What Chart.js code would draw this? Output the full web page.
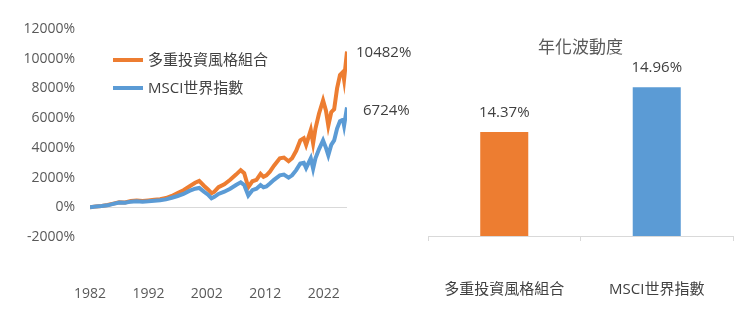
<!DOCTYPE html>
<html>
<head>
<meta charset="utf-8">
<script src="https://cdn.jsdelivr.net/npm/chart.js@4.4.0/dist/chart.umd.min.js"></script>
<style>
  body { margin: 0; background: #fff; overflow: hidden; }
  #leftBox { position: absolute; left: 0; top: 0; width: 425px; height: 314px; }
  #rightBox { position: absolute; left: 425px; top: 0; width: 318px; height: 314px; }
</style>
</head>
<body>
<div id="leftBox"><canvas id="left"></canvas></div>
<div id="rightBox"><canvas id="right"></canvas></div>
<script>
// 累積報酬 (%)
const years = [1982, 1983, 1984, 1985, 1986, 1987, 1988, 1989, 1990, 1991, 1992, 1993, 1994, 1995, 1996, 1997, 1998, 1999, 2000, 2000.7,
    2001.5, 2002.2, 2002.8, 2003.3, 2004, 2005, 2006, 2007, 2007.8, 2008.4, 2009.1, 2009.8, 2010.5, 2011.2, 2011.7, 2012.2, 2012.8, 2013.5,
    2014.5, 2015.2, 2016, 2016.6, 2017.3, 2018, 2018.6, 2019, 2019.8, 2020.2, 2020.6, 2021.2, 2021.9, 2022.4, 2022.8, 2023.3, 2023.8,
    2024.3, 2024.8, 2025.3, 2025.5, 2026];
const multiStyle = [0, 60, 90, 150, 250, 340, 330, 420, 450, 420, 460, 500, 540, 620, 760, 950, 1150, 1400, 1650, 1780,
    1450, 1200, 950, 1050, 1350, 1550, 1850, 2200, 2500, 2300, 1350, 1750, 1850, 2250, 2050, 2150, 2400, 2800,
    3300, 3350, 3100, 3300, 3800, 4500, 4650, 4200, 5200, 4300, 5300, 6300, 7200, 6500, 5500, 6400, 6600,
    8000, 8900, 9100, 8600, 10482];
const msciWorld = [0, 50, 80, 130, 230, 320, 300, 380, 400, 380, 400, 440, 470, 530, 640, 760, 900, 1100, 1250, 1300,
    1050, 850, 600, 700, 900, 1050, 1250, 1500, 1680, 1500, 800, 1150, 1250, 1500, 1350, 1400, 1600, 1850,
    2150, 2200, 2000, 2150, 2500, 2950, 3000, 2650, 3300, 2600, 3300, 3900, 4500, 4000, 3500, 4200, 4500,
    5300, 5800, 5900, 5500, 6724];
const tickYears = [1982, 1992, 2002, 2012, 2022];

// 年化波動度
const volCategories = ["多重投資風格組合", "MSCI世界指數"];
const volValues = [14.37, 14.96];

const seriesNames = ["多重投資風格組合", "MSCI世界指數"];
const orange = "#ED7D31";
const blue = "#5B9BD5";
const fontFamily = "'Segoe UI', 'Open Sans', 'Noto Sans CJK TC', sans-serif";

function toPoints(values) {
    return values.map((v, i) => ({ x: years[i], y: v }));
}

// 圖例和最後一點的標籤
const lineExtras = {
    id: "lineExtras",
    afterDatasetsDraw(chart) {
        const ctx = chart.ctx;
        const area = chart.chartArea;
        ctx.save();
        ctx.font = "15px " + fontFamily;
        ctx.fillStyle = "#404040";
        ctx.textBaseline = "middle";
        ctx.textAlign = "left";

        // 圖例
        const colors = [orange, blue];
        seriesNames.forEach((name, i) => {
            const y = area.top + 31 + i * 28;
            ctx.strokeStyle = colors[i];
            ctx.lineWidth = 4;
            ctx.beginPath();
            ctx.moveTo(area.left + 23, y);
            ctx.lineTo(area.left + 53, y);
            ctx.stroke();
            ctx.fillText(name, area.left + 58, y + 1);
        });

        // 最後一點
        chart.data.datasets.forEach((ds, i) => {
            const meta = chart.getDatasetMeta(i);
            const last = meta.data[meta.data.length - 1];
            const val = ds.data[ds.data.length - 1].y;
            const dx = i === 0 ? 9 : 16;
            const dy = i === 0 ? 1 : 3;
            ctx.fillText(val + "%", last.x + dx, last.y + dy);
        });
        ctx.restore();
    }
};

new Chart(document.getElementById("left"), {
    type: "line",
    data: {
        datasets: [{
            label: seriesNames[0],
            data: toPoints(multiStyle),
            borderColor: orange,
            borderWidth: 4,
            pointRadius: 0,
            tension: 0,
            order: 1
        }, {
            label: seriesNames[1],
            data: toPoints(msciWorld),
            borderColor: blue,
            borderWidth: 4,
            pointRadius: 0,
            tension: 0,
            order: 0
        }]
    },
    options: {
        responsive: true,
        maintainAspectRatio: false,
        animation: false,
        layout: { padding: { top: 29, right: 78, bottom: 11, left: 20 } },
        plugins: {
            legend: { display: false },
            tooltip: { enabled: false }
        },
        scales: {
            x: {
                type: "linear",
                min: 1982,
                max: 2026,
                afterBuildTicks: axis => { axis.ticks = tickYears.map(v => ({ value: v })); },
                afterFit: scale => { scale.height = 66; scale.paddingLeft = 0; scale.paddingRight = 0; },
                grid: { display: false, drawTicks: false },
                border: { display: false },
                ticks: {
                    padding: 49,
                    color: "#595959",
                    font: { size: 14, family: fontFamily },
                    callback: v => String(v),
                    maxRotation: 0
                }
            },
            y: {
                min: -2000,
                max: 12000,
                afterFit: scale => { scale.width = 70; },
                ticks: {
                    stepSize: 2000,
                    padding: 15,
                    color: "#595959",
                    font: { size: 14, family: fontFamily },
                    callback: v => v + "%"
                },
                grid: {
                    drawTicks: false,
                    color: c => c.tick && c.tick.value === 0 ? "#d9d9d9" : "rgba(0,0,0,0)"
                },
                border: { display: false }
            }
        }
    },
    plugins: [lineExtras]
});

// 柱狀圖數值標籤
const barLabels = {
    id: "barLabels",
    afterDatasetsDraw(chart) {
        const ctx = chart.ctx;
        const meta = chart.getDatasetMeta(0);
        ctx.save();
        ctx.font = "15px " + fontFamily;
        ctx.fillStyle = "#404040";
        ctx.textAlign = "center";
        ctx.textBaseline = "middle";
        meta.data.forEach((bar, i) => {
            ctx.fillText(volValues[i].toFixed(2) + "%", bar.x, bar.y - 19);
        });
        ctx.restore();
    }
};

new Chart(document.getElementById("right"), {
    type: "bar",
    data: {
        labels: volCategories,
        datasets: [{
            data: volValues,
            backgroundColor: [orange, blue],
            barPercentage: 0.315,
            categoryPercentage: 1
        }]
    },
    options: {
        responsive: true,
        maintainAspectRatio: false,
        animation: false,
        layout: { padding: { top: 0, right: 10, bottom: 15, left: 3 } },
        plugins: {
            legend: { display: false },
            tooltip: { enabled: false },
            title: {
                display: true,
                text: "年化波動度",
                color: "#595959",
                font: { size: 17, weight: "normal", family: fontFamily },
                padding: { top: 38, bottom: 6 }
            }
        },
        scales: {
            x: {
                afterFit: scale => { scale.height = 63; scale.paddingLeft = 0; scale.paddingRight = 0; },
                grid: { drawOnChartArea: false, offset: true, color: "#d9d9d9", tickLength: 5 },
                border: { color: "#d9d9d9" },
                ticks: {
                    padding: 40,
                    color: "#404040",
                    font: { size: 15, family: fontFamily }
                }
            },
            y: {
                display: false,
                min: 13,
                max: 15.26
            }
        }
    },
    plugins: [barLabels]
});
</script>
</body>
</html>
